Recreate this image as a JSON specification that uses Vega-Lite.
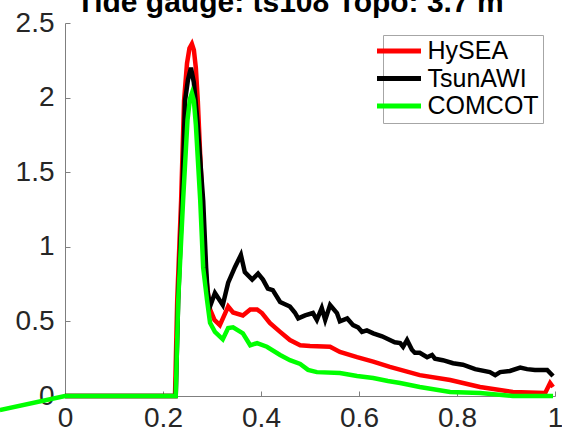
{
  "$schema": "https://vega.github.io/schema/vega-lite/v6.json",
  "autosize": {"type": "none"},
  "width": 490,
  "height": 373,
  "padding": {"left": 65, "top": 23, "right": 7, "bottom": 35},
  "background": "white",
  "title": {
    "text": "Tide gauge: ts108 Topo: 3.7 m",
    "font": "Liberation Sans",
    "fontSize": 30,
    "fontWeight": "bold",
    "color": "#000000",
    "anchor": "middle",
    "dx": -20,
    "dy": 33,
    "offset": 0,
    "baseline": "alphabetic"
  },
  "config": {
    "view": {"stroke": null},
    "axis": {
      "labelFont": "Liberation Sans",
      "labelFontSize": 28,
      "labelColor": "#262626",
      "domainColor": "#7f7f7f",
      "domainWidth": 1,
      "tickColor": "#7f7f7f",
      "tickSize": -5,
      "grid": false,
      "title": null
    }
  },
  "data": {
    "values": [
      {"m": "HySEA", "t": 0, "h": 0},
      {"m": "HySEA", "t": 0.2245, "h": 0},
      {"m": "HySEA", "t": 0.229, "h": 0.64},
      {"m": "HySEA", "t": 0.237, "h": 1.31},
      {"m": "HySEA", "t": 0.243, "h": 1.98},
      {"m": "HySEA", "t": 0.249, "h": 2.23},
      {"m": "HySEA", "t": 0.254, "h": 2.33},
      {"m": "HySEA", "t": 0.259, "h": 2.36},
      {"m": "HySEA", "t": 0.263, "h": 2.32},
      {"m": "HySEA", "t": 0.267, "h": 2.2},
      {"m": "HySEA", "t": 0.271, "h": 1.98},
      {"m": "HySEA", "t": 0.28, "h": 1.31},
      {"m": "HySEA", "t": 0.286, "h": 0.86},
      {"m": "HySEA", "t": 0.292, "h": 0.68},
      {"m": "HySEA", "t": 0.296, "h": 0.58},
      {"m": "HySEA", "t": 0.305, "h": 0.51},
      {"m": "HySEA", "t": 0.316, "h": 0.475},
      {"m": "HySEA", "t": 0.327, "h": 0.556},
      {"m": "HySEA", "t": 0.333, "h": 0.6},
      {"m": "HySEA", "t": 0.343, "h": 0.56},
      {"m": "HySEA", "t": 0.363, "h": 0.54},
      {"m": "HySEA", "t": 0.378, "h": 0.58},
      {"m": "HySEA", "t": 0.392, "h": 0.58},
      {"m": "HySEA", "t": 0.402, "h": 0.556},
      {"m": "HySEA", "t": 0.418, "h": 0.49},
      {"m": "HySEA", "t": 0.439, "h": 0.43},
      {"m": "HySEA", "t": 0.459, "h": 0.375},
      {"m": "HySEA", "t": 0.48, "h": 0.34},
      {"m": "HySEA", "t": 0.5, "h": 0.335},
      {"m": "HySEA", "t": 0.541, "h": 0.33},
      {"m": "HySEA", "t": 0.561, "h": 0.295},
      {"m": "HySEA", "t": 0.596, "h": 0.26},
      {"m": "HySEA", "t": 0.629, "h": 0.23},
      {"m": "HySEA", "t": 0.663, "h": 0.195},
      {"m": "HySEA", "t": 0.724, "h": 0.14},
      {"m": "HySEA", "t": 0.786, "h": 0.107},
      {"m": "HySEA", "t": 0.847, "h": 0.06},
      {"m": "HySEA", "t": 0.914, "h": 0.027},
      {"m": "HySEA", "t": 0.98, "h": 0.02},
      {"m": "HySEA", "t": 0.99, "h": 0.087},
      {"m": "HySEA", "t": 0.996, "h": 0.06},
      {"m": "TsunAWI", "t": 0, "h": 0},
      {"m": "TsunAWI", "t": 0.226, "h": 0},
      {"m": "TsunAWI", "t": 0.231, "h": 0.64},
      {"m": "TsunAWI", "t": 0.239, "h": 1.31},
      {"m": "TsunAWI", "t": 0.245, "h": 1.98},
      {"m": "TsunAWI", "t": 0.251, "h": 2.12},
      {"m": "TsunAWI", "t": 0.257, "h": 2.2},
      {"m": "TsunAWI", "t": 0.263, "h": 2.1},
      {"m": "TsunAWI", "t": 0.27, "h": 1.85},
      {"m": "TsunAWI", "t": 0.282, "h": 1.31},
      {"m": "TsunAWI", "t": 0.288, "h": 0.86},
      {"m": "TsunAWI", "t": 0.291, "h": 0.7},
      {"m": "TsunAWI", "t": 0.296, "h": 0.6},
      {"m": "TsunAWI", "t": 0.306, "h": 0.69},
      {"m": "TsunAWI", "t": 0.322, "h": 0.61},
      {"m": "TsunAWI", "t": 0.333, "h": 0.76},
      {"m": "TsunAWI", "t": 0.347, "h": 0.865},
      {"m": "TsunAWI", "t": 0.359, "h": 0.945},
      {"m": "TsunAWI", "t": 0.367, "h": 0.83},
      {"m": "TsunAWI", "t": 0.382, "h": 0.78},
      {"m": "TsunAWI", "t": 0.394, "h": 0.82},
      {"m": "TsunAWI", "t": 0.404, "h": 0.78},
      {"m": "TsunAWI", "t": 0.414, "h": 0.72},
      {"m": "TsunAWI", "t": 0.424, "h": 0.71},
      {"m": "TsunAWI", "t": 0.439, "h": 0.63},
      {"m": "TsunAWI", "t": 0.459, "h": 0.6},
      {"m": "TsunAWI", "t": 0.469, "h": 0.56},
      {"m": "TsunAWI", "t": 0.476, "h": 0.52},
      {"m": "TsunAWI", "t": 0.49, "h": 0.54},
      {"m": "TsunAWI", "t": 0.506, "h": 0.556},
      {"m": "TsunAWI", "t": 0.514, "h": 0.51},
      {"m": "TsunAWI", "t": 0.524, "h": 0.59},
      {"m": "TsunAWI", "t": 0.531, "h": 0.51},
      {"m": "TsunAWI", "t": 0.541, "h": 0.61},
      {"m": "TsunAWI", "t": 0.555, "h": 0.556},
      {"m": "TsunAWI", "t": 0.561, "h": 0.5},
      {"m": "TsunAWI", "t": 0.576, "h": 0.52},
      {"m": "TsunAWI", "t": 0.588, "h": 0.475},
      {"m": "TsunAWI", "t": 0.598, "h": 0.46},
      {"m": "TsunAWI", "t": 0.606, "h": 0.43},
      {"m": "TsunAWI", "t": 0.616, "h": 0.44},
      {"m": "TsunAWI", "t": 0.629, "h": 0.42},
      {"m": "TsunAWI", "t": 0.647, "h": 0.4},
      {"m": "TsunAWI", "t": 0.663, "h": 0.375},
      {"m": "TsunAWI", "t": 0.673, "h": 0.36},
      {"m": "TsunAWI", "t": 0.684, "h": 0.355},
      {"m": "TsunAWI", "t": 0.69, "h": 0.33},
      {"m": "TsunAWI", "t": 0.698, "h": 0.375},
      {"m": "TsunAWI", "t": 0.708, "h": 0.31},
      {"m": "TsunAWI", "t": 0.714, "h": 0.29},
      {"m": "TsunAWI", "t": 0.724, "h": 0.29},
      {"m": "TsunAWI", "t": 0.739, "h": 0.26},
      {"m": "TsunAWI", "t": 0.749, "h": 0.275},
      {"m": "TsunAWI", "t": 0.755, "h": 0.25},
      {"m": "TsunAWI", "t": 0.771, "h": 0.24},
      {"m": "TsunAWI", "t": 0.792, "h": 0.22},
      {"m": "TsunAWI", "t": 0.812, "h": 0.21},
      {"m": "TsunAWI", "t": 0.837, "h": 0.18},
      {"m": "TsunAWI", "t": 0.867, "h": 0.16},
      {"m": "TsunAWI", "t": 0.878, "h": 0.14},
      {"m": "TsunAWI", "t": 0.888, "h": 0.16},
      {"m": "TsunAWI", "t": 0.908, "h": 0.168},
      {"m": "TsunAWI", "t": 0.929, "h": 0.19},
      {"m": "TsunAWI", "t": 0.943, "h": 0.18},
      {"m": "TsunAWI", "t": 0.959, "h": 0.175},
      {"m": "TsunAWI", "t": 0.984, "h": 0.175},
      {"m": "TsunAWI", "t": 0.996, "h": 0.134},
      {"m": "COMCOT", "t": -0.133, "h": -0.094},
      {"m": "COMCOT", "t": 0, "h": 0},
      {"m": "COMCOT", "t": 0.226, "h": 0},
      {"m": "COMCOT", "t": 0.231, "h": 0.64},
      {"m": "COMCOT", "t": 0.241, "h": 1.31},
      {"m": "COMCOT", "t": 0.25, "h": 1.85},
      {"m": "COMCOT", "t": 0.255, "h": 1.99},
      {"m": "COMCOT", "t": 0.259, "h": 2.03},
      {"m": "COMCOT", "t": 0.263, "h": 1.98},
      {"m": "COMCOT", "t": 0.267, "h": 1.82},
      {"m": "COMCOT", "t": 0.276, "h": 1.31},
      {"m": "COMCOT", "t": 0.282, "h": 0.86},
      {"m": "COMCOT", "t": 0.29, "h": 0.64},
      {"m": "COMCOT", "t": 0.296, "h": 0.49},
      {"m": "COMCOT", "t": 0.306, "h": 0.43},
      {"m": "COMCOT", "t": 0.322, "h": 0.38},
      {"m": "COMCOT", "t": 0.333, "h": 0.455},
      {"m": "COMCOT", "t": 0.343, "h": 0.46},
      {"m": "COMCOT", "t": 0.363, "h": 0.42},
      {"m": "COMCOT", "t": 0.378, "h": 0.34},
      {"m": "COMCOT", "t": 0.392, "h": 0.355},
      {"m": "COMCOT", "t": 0.412, "h": 0.33},
      {"m": "COMCOT", "t": 0.439, "h": 0.275},
      {"m": "COMCOT", "t": 0.459, "h": 0.24},
      {"m": "COMCOT", "t": 0.48, "h": 0.215},
      {"m": "COMCOT", "t": 0.496, "h": 0.175},
      {"m": "COMCOT", "t": 0.514, "h": 0.16},
      {"m": "COMCOT", "t": 0.561, "h": 0.154},
      {"m": "COMCOT", "t": 0.596, "h": 0.134},
      {"m": "COMCOT", "t": 0.629, "h": 0.12},
      {"m": "COMCOT", "t": 0.659, "h": 0.1},
      {"m": "COMCOT", "t": 0.684, "h": 0.087},
      {"m": "COMCOT", "t": 0.724, "h": 0.06},
      {"m": "COMCOT", "t": 0.786, "h": 0.027},
      {"m": "COMCOT", "t": 0.847, "h": 0.02},
      {"m": "COMCOT", "t": 0.914, "h": 0.0},
      {"m": "COMCOT", "t": 0.996, "h": 0.0}
    ]
  },
  "mark": {"type": "line", "strokeWidth": 4.5, "clip": false},
  "encoding": {
    "x": {
      "field": "t",
      "type": "quantitative",
      "scale": {"domain": [0, 1], "nice": false, "zero": false},
      "axis": {"values": [0, 0.2, 0.4, 0.6, 0.8, 1], "format": "~g", "labelPadding": 13, "labelFlush": false}
    },
    "y": {
      "field": "h",
      "type": "quantitative",
      "scale": {"domain": [0, 2.5], "nice": false, "zero": false},
      "axis": {"values": [0, 0.5, 1, 1.5, 2, 2.5], "format": "~g", "labelPadding": 16}
    },
    "color": {
      "field": "m",
      "type": "nominal",
      "sort": ["HySEA", "TsunAWI", "COMCOT"],
      "scale": {"domain": ["HySEA", "TsunAWI", "COMCOT"], "range": ["#ff0000", "#000000", "#00ff00"]},
      "legend": {
        "title": null,
        "orient": "top-right",
        "offset": 12,
        "padding": 3.5,
        "strokeColor": "#a6a6a6",
        "fillColor": "#ffffff",
        "symbolType": "M-2.2,0L2.2,0",
        "symbolSize": 400,
        "symbolStrokeWidth": 5,
        "symbolOffset": 0,
        "labelFont": "Liberation Sans",
        "labelFontSize": 25,
        "labelColor": "#000000",
        "labelOffset": 16,
        "labelExpr": "datum.label + ' '",
        "rowPadding": 1.5
      }
    }
  }
}
